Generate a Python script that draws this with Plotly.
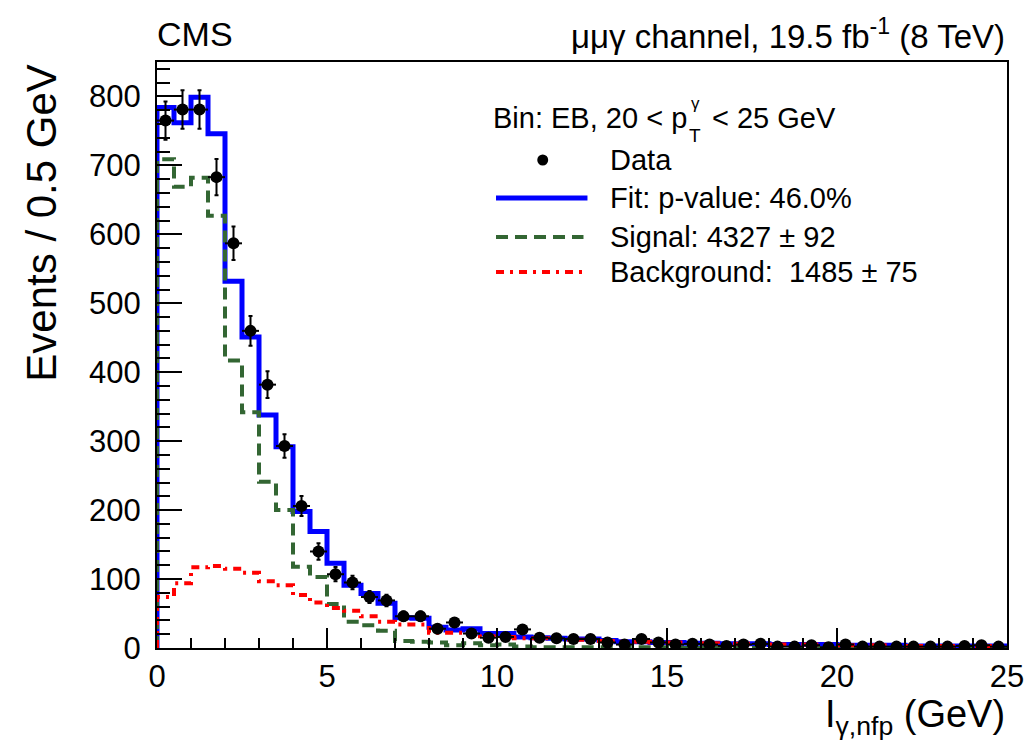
import numpy as np
import plotly.graph_objects as go

# ---------------- data ----------------
bin_edges = np.arange(0, 25.0001, 0.5)          # I_gamma,nfp bins (GeV)
bin_centers = bin_edges[:-1] + 0.25

data_counts = [765, 781, 781, 683, 587, 460, 382, 293, 206, 140,
               107, 95, 74, 69, 46, 46, 28, 37, 21, 15,
               16, 27, 15, 14, 13, 13, 8, 5, 13, 8,
               5, 6, 5, 3, 5, 6, 2, 2, 4, 1,
               5, 2, 2, 2, 2, 2, 2, 3, 4, 2]

fit_counts = [784, 762, 799, 746, 532, 451, 338, 292, 198, 169,
              123, 91, 79, 65, 44, 43, 30, 26, 28, 21,
              21, 16, 15, 14, 13, 13, 11, 9, 9, 8,
              8, 7, 7, 6, 6, 6, 5, 5, 5, 5,
              4, 4, 4, 4, 3, 3, 3, 3, 3, 3]

signal_counts = [709, 669, 682, 627, 417, 342, 241, 200, 118, 103,
                 64, 38, 33, 25, 10, 9, 8, 4, 7, 4,
                 5, 2, 1, 1, 1, 1, 1, 1, 1, 1,
                 0, 0, 0, 0, 0, 0, 0, 0, 0, 0,
                 0, 0, 0, 0, 0, 0, 0, 0, 0, 0]

background_counts = [74, 94, 117, 119, 115, 109, 97, 91, 77, 66,
                     58, 54, 46, 38, 34, 34, 22, 22, 21, 17,
                     16, 14, 14, 13, 12, 12, 10, 9, 9, 8,
                     8, 7, 7, 6, 6, 6, 5, 5, 5, 5,
                     4, 4, 4, 4, 3, 3, 3, 3, 3, 3]

x_ticks = [0, 5, 10, 15, 20, 25]
y_ticks = [0, 100, 200, 300, 400, 500, 600, 700, 800]

# ---------------- layout geometry (pixels) ----------------
W, H = 1036, 748
L, R, T, B = 157, 1012, 62, 648
FONT = "Liberation Sans"


def px(x):
    return (x - L) / (R - L)


def py(y):
    return (B - y) / (B - T)


def step_xy(vals):
    xs = np.concatenate([[0.0], bin_edges])
    ys = np.concatenate([[0.0], vals, [vals[-1]]])
    return xs, ys


BLUE = "#0000ff"
GREEN = "#336633"
RED = "#ff0000"
GREEN_DASH = "12px,7px"
RED_DASH = "8px,6px,3px,6px"

fig = go.Figure()

xs, ys = step_xy(fit_counts)
fig.add_trace(go.Scatter(x=xs, y=ys, mode="lines", line_shape="hv",
                         line=dict(color=BLUE, width=5), name="Fit"))
xs, ys = step_xy(signal_counts)
fig.add_trace(go.Scatter(x=xs, y=ys, mode="lines", line_shape="hv",
                         line=dict(color=GREEN, width=4, dash=GREEN_DASH), name="Signal"))
xs, ys = step_xy(background_counts)
fig.add_trace(go.Scatter(x=xs, y=ys, mode="lines", line_shape="hv",
                         line=dict(color=RED, width=4, dash=RED_DASH), name="Background"))

data_err = np.sqrt(np.array(data_counts, dtype=float))
fig.add_trace(go.Scatter(
    x=bin_centers, y=data_counts, mode="markers", name="Data",
    marker=dict(color="black", size=12),
    error_y=dict(type="data", array=data_err, color="black", thickness=2, width=2),
    error_x=dict(type="constant", value=0.25, color="black", thickness=2, width=0),
))

# ---------------- manual legend (ROOT style) ----------------
shapes = []
shapes.append(dict(type="circle", xref="paper", yref="paper",
                   x0=px(539.5), x1=px(550.5), y0=py(165.5), y1=py(154.5),
                   fillcolor="black", line=dict(color="black", width=0)))
shapes.append(dict(type="line", xref="paper", yref="paper",
                   x0=px(498), x1=px(590), y0=py(198), y1=py(198),
                   line=dict(color=BLUE, width=5)))
shapes.append(dict(type="line", xref="paper", yref="paper",
                   x0=px(498), x1=px(586), y0=py(237), y1=py(237),
                   line=dict(color=GREEN, width=4, dash=GREEN_DASH)))
shapes.append(dict(type="line", xref="paper", yref="paper",
                   x0=px(498), x1=px(590), y0=py(272), y1=py(272),
                   line=dict(color=RED, width=4, dash=RED_DASH)))

LEG = 29
annotations = []


def ann(text, x, y, size, xanchor="left", yanchor="middle", **kw):
    annotations.append(dict(text=text, x=px(x), y=py(y), xref="paper", yref="paper",
                            xanchor=xanchor, yanchor=yanchor, showarrow=False,
                            font=dict(family=FONT, size=size, color="black"), **kw))


ann("Bin: EB, 20 &lt; p", 493, 118, LEG)
ann("γ", 692, 104, 17)
ann("T", 690, 135, 19)
ann("&lt; 25 GeV", 713, 118, LEG)
ann("Data", 611, 160, LEG)
ann("Fit: p-value: 46.0%", 611, 198, LEG)
ann("Signal: 4327 ± 92", 611, 237, LEG)
ann("Background:  1485 ± 75", 611, 272, LEG)

ann("CMS", 155, 34, 34)
ann("μμγ channel, 19.5 fb<sup>-1</sup> (8 TeV)", 1012, 34, 33, xanchor="right")

ann("Events / 0.5 GeV", 40, 62, 42, xanchor="center", yanchor="top", textangle=-90)
ann("I<sub>γ,nfp</sub> (GeV)", 1012, 717, 38, xanchor="right")

fig.update_layout(
    width=W, height=H,
    margin=dict(l=L, r=W - R, t=T, b=H - B, pad=0),
    paper_bgcolor="white", plot_bgcolor="white",
    showlegend=False,
    shapes=shapes, annotations=annotations,
    font=dict(family=FONT, color="black"),
    xaxis=dict(range=[0, 25], tickvals=x_ticks, ticktext=[str(v) for v in x_ticks],
               ticks="inside", ticklen=20, tickwidth=2, tickcolor="black",
               minor=dict(dtick=1, ticks="inside", ticklen=10, tickwidth=2, tickcolor="black"),
               showline=True, linecolor="black", linewidth=2, mirror=True,
               showgrid=False, zeroline=False,
               tickfont=dict(family=FONT, size=31, color="black")),
    yaxis=dict(range=[0, 850], tickvals=y_ticks, ticktext=[str(v) for v in y_ticks],
               ticks="inside", ticklen=25, tickwidth=2, tickcolor="black",
               minor=dict(dtick=20, ticks="inside", ticklen=13, tickwidth=2, tickcolor="black"),
               showline=True, linecolor="black", linewidth=2, mirror=True,
               showgrid=False, zeroline=False, ticklabelstandoff=8,
               tickfont=dict(family=FONT, size=31, color="black")),
)

fig.write_html("out.html")
